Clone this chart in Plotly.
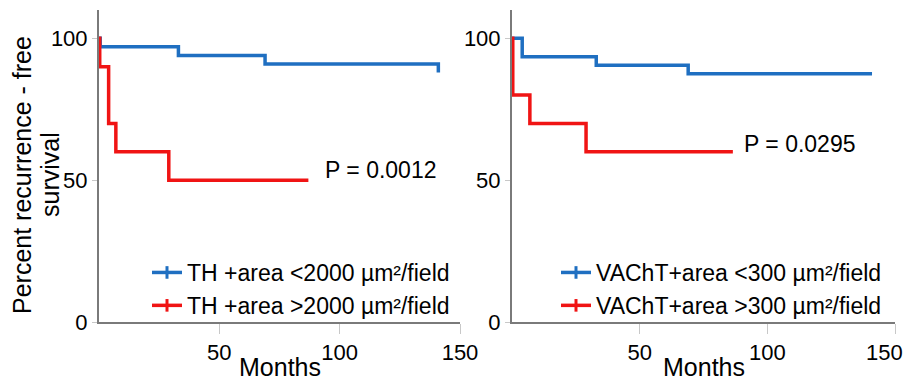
import plotly.graph_objects as go

# ---- data ----
months_ticks = [50, 100, 150]
month_labels = ["50", "100", "150"]
surv_ticks = [0, 50, 100]

th_low_t = [0, 0.5, 33, 69, 141]
th_low_s = [100, 97, 94, 91, 88]
th_high_t = [0, 0.3, 4, 7, 29, 87]
th_high_s = [100, 90, 70, 60, 50, 50]

va_low_t = [0, 4, 33, 69, 141]
va_low_s = [100, 93.5, 90.5, 87.5, 87.5]
va_high_t = [0, 0.3, 7, 29, 86.5]
va_high_s = [100, 80, 70, 60, 60]

names_left = ["TH +area <2000 µm²/field", "TH +area >2000 µm²/field"]
names_right = ["VAChT+area <300 µm²/field", "VAChT+area >300 µm²/field"]
p_left = "P = 0.0012"
p_right = "P = 0.0295"
ytitle_lines = ["Percent recurrence - free", "survival"]
xtitle = "Months"

BLUE = "#1f6fc1"
RED = "#f01414"
FONT = "Liberation Sans, Arial, Helvetica, sans-serif"

fig = go.Figure()

def add_curve(t, s, color, name, xa, ya, legend):
    fig.add_trace(go.Scatter(x=t, y=s, mode="lines", line=dict(color=color, width=3.5, shape="hv"),
                             xaxis=xa, yaxis=ya, showlegend=False, hoverinfo="skip"))
    fig.add_trace(go.Scatter(x=[None], y=[None], mode="lines+markers", name=name,
                             line=dict(color=color, width=3.5),
                             marker=dict(symbol="line-ns", size=9, line=dict(color=color, width=3)),
                             xaxis=xa, yaxis=ya, legend=legend))

add_curve(th_low_t, th_low_s, BLUE, names_left[0], "x", "y", "legend")
add_curve(th_high_t, th_high_s, RED, names_left[1], "x", "y", "legend")
add_curve(va_low_t, va_low_s, BLUE, names_right[0], "x2", "y2", "legend2")
add_curve(va_high_t, va_high_s, RED, names_right[1], "x2", "y2", "legend2")

W, H = 906, 380
ml, mr, mt, mb = 99, 11, 10, 58
pw = W - ml - mr
ph = H - mt - mb
def px(xp):
    return (xp - ml) / pw
def py(yp):
    return (H - mb - yp) / ph

xcommon = dict(range=[0, 150], tickvals=months_ticks, ticks="outside", ticklen=10, tickwidth=1,
               tickcolor="#c8c8c8", showline=True, linecolor="#7a7a7a", linewidth=2,
               showgrid=False, zeroline=False, automargin=False,
               tickfont=dict(size=22, color="black", family=FONT))
ycommon = dict(range=[0, 110], tickvals=surv_ticks, ticks="outside", ticklen=5, tickwidth=1,
               tickcolor="#c8c8c8", showline=True, linecolor="#7a7a7a", linewidth=2,
               showgrid=False, zeroline=False, automargin=False,
               tickfont=dict(size=22, color="black", family=FONT))

fig.update_layout(
    width=W, height=H, margin=dict(l=ml, r=mr, t=mt, b=mb, autoexpand=False),
    paper_bgcolor="white", plot_bgcolor="white",
    font=dict(family=FONT, color="black"),
    xaxis=dict(domain=[0, px(460)], anchor="y", ticktext=month_labels, **xcommon),
    yaxis=dict(domain=[0, 1], anchor="x", **ycommon),
    xaxis2=dict(domain=[px(512), 1], anchor="y2", ticktext=month_labels[:-1] + [""], **xcommon),
    yaxis2=dict(domain=[0, 1], anchor="x2", **ycommon),
    legend=dict(x=px(147), y=py(251), xanchor="left", yanchor="top", bgcolor="rgba(0,0,0,0)",
                font=dict(size=23, family=FONT), tracegroupgap=0),
    legend2=dict(x=px(556), y=py(251), xanchor="left", yanchor="top", bgcolor="rgba(0,0,0,0)",
                 font=dict(size=23, family=FONT), tracegroupgap=0),
    showlegend=True,
)

# last tick label of the right panel, kept fully inside the picture as in the reference
fig.add_annotation(x=1, y=py(352), xref="paper", yref="paper", text=month_labels[-1],
                   showarrow=False, xanchor="right", yanchor="middle", xshift=mr - 1,
                   font=dict(size=22, family=FONT))

fig.add_annotation(x=93, y=53.5, xref="x", yref="y", text=p_left, showarrow=False,
                   xanchor="left", yanchor="middle", font=dict(size=23, family=FONT))
fig.add_annotation(x=90, y=62.8, xref="x2", yref="y2", text=p_right, showarrow=False,
                   xanchor="left", yanchor="middle", font=dict(size=23, family=FONT))
fig.add_annotation(x=75, y=py(351), xref="x", yref="paper", text=xtitle, showarrow=False,
                   xanchor="center", yanchor="top", font=dict(size=25, family=FONT))
fig.add_annotation(x=75, y=py(351), xref="x2", yref="paper", text=xtitle, showarrow=False,
                   xanchor="center", yanchor="top", font=dict(size=25, family=FONT))
fig.add_annotation(x=px(22), y=py(175), xref="paper", yref="paper",
                   text=ytitle_lines[0], showarrow=False, textangle=-90,
                   xanchor="center", yanchor="middle", font=dict(size=25, family=FONT))
fig.add_annotation(x=px(50), y=py(175), xref="paper", yref="paper",
                   text=ytitle_lines[1], showarrow=False, textangle=-90,
                   xanchor="center", yanchor="middle", font=dict(size=25, family=FONT))

fig.write_html("out.html", config={"displayModeBar": False},
               post_script="document.body.style.margin='0px';")
